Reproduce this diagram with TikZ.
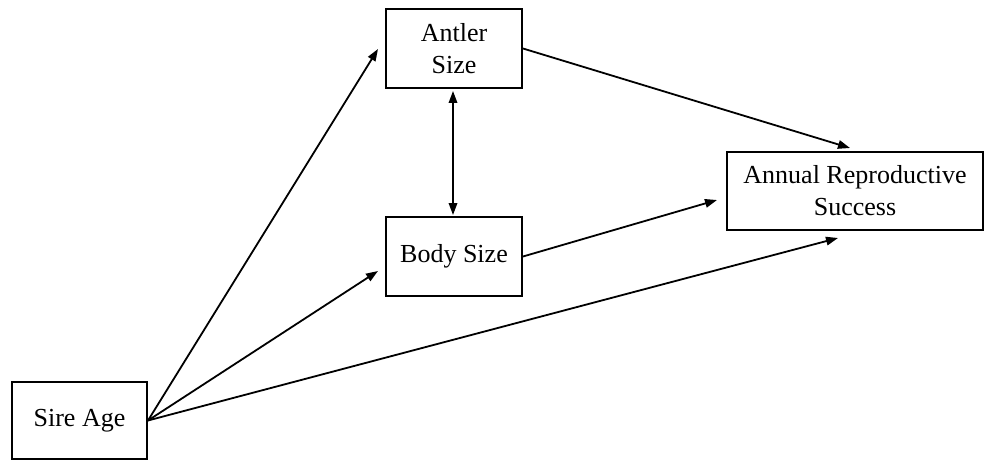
\documentclass[tikz,border=0pt]{standalone}
\usepackage{fontspec}
\setmainfont{Liberation Serif}
\usetikzlibrary{arrows.meta}
\begin{document}
\begin{tikzpicture}[x=1pt,y=-1pt,
  box/.style={draw,line width=2pt,inner sep=0pt,align=center,
    font=\fontsize{26}{32}\selectfont},
  arr/.style={line width=1.8pt,-{Triangle[length=12pt,width=8.5pt]}},
  darr/.style={line width=1.8pt,{Triangle[length=12pt,width=8.5pt]}-{Triangle[length=12pt,width=8.5pt]}}]
\useasboundingbox (0,0) rectangle (986,460);
\node[box,minimum width=136pt,minimum height=79pt] (antler) at (454,48.5) {Antler\\Size};
\node[box,minimum width=136pt,minimum height=79pt] (body) at (454,256.5) {Body Size};
\node[box,minimum width=256pt,minimum height=78pt] (ars) at (855,191) {Annual Reproductive\\Success};
\node[box,minimum width=135pt,minimum height=77pt] (sire) at (79.5,420.5) {Sire Age};
\coordinate (tA) at (378,49);
\coordinate (tB) at (378,271);
\coordinate (tR1) at (850,148);
\coordinate (tR2) at (717,200);
\coordinate (tR3) at (838,238);
\coordinate (vTop) at (453,91);
\coordinate (vBot) at (453,215);
\draw[arr] (sire.east) -- (tA);
\draw[arr] (sire.east) -- (tB);
\draw[arr] (sire.east) -- (tR3);
\draw[arr] (antler.east) -- (tR1);
\draw[arr] (body.east) -- (tR2);
\draw[darr] (vTop) -- (vBot);
\end{tikzpicture}
\end{document}
